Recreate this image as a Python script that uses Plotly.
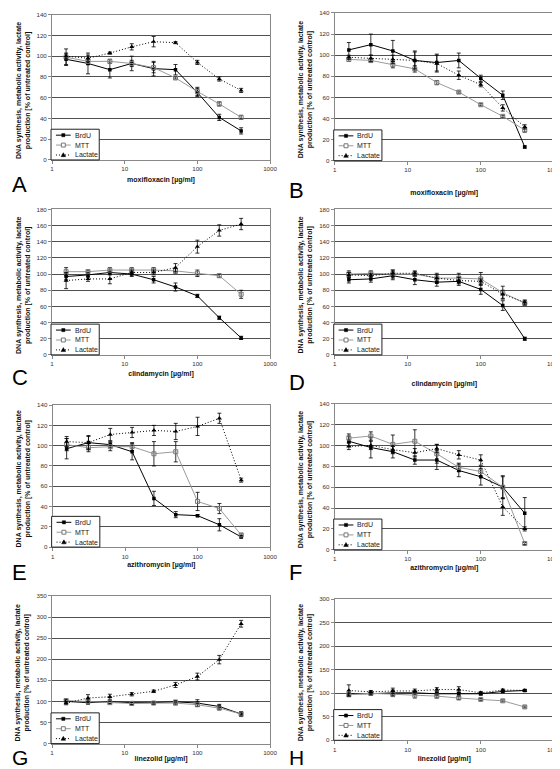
import plotly.graph_objects as go

# concentrations (µg/ml)
conc = [1.5625, 3.125, 6.25, 12.5, 25, 50, 100, 200, 400]

panel_letters = ["A", "B", "C", "D", "E", "F", "G", "H"]
drug_names = ["moxifloxacin", "moxifloxacin", "clindamycin", "clindamycin",
              "azithromycin", "azithromycin", "linezolid", "linezolid"]
series_names = ["BrdU", "MTT", "Lactate"]
y_max = [140, 140, 180, 180, 140, 140, 350, 300]
y_step = [20, 20, 20, 20, 20, 20, 50, 50]

# ---- Panel A ----
brdu_A = [97, 93, 87, 93, 88, 87, 65, 41, 28]
brdu_A_err = [5, 10, 8, 7, 7, 5, 4, 3, 3]
mtt_A = [99, 95, 95, 93, 89, 79, 66, 54, 41]
mtt_A_err = [8, 3, 2, 3, 5, 1, 4, 2, 2]
lac_A = [100, 98, 103, 109, 114, 113, 94, 78, 67]
lac_A_err = [3, 3, 1, 3, 5, 1, 2, 2, 2]

# ---- Panel B ----
brdu_B = [105, 110, 104, 95, 93, 95, 78, 62, 13]
brdu_B_err = [7, 10, 10, 9, 8, 7, 3, 4, 1]
mtt_B = [96, 95, 91, 87, 74, 65, 53, 42, 29]
mtt_B_err = [2, 2, 3, 3, 2, 1, 1, 1, 2]
lac_B = [98, 97, 96, 95, 92, 81, 72, 50, 32]
lac_B_err = [2, 3, 4, 8, 8, 4, 2, 3, 2]

# ---- Panel C ----
brdu_C = [97, 99, 102, 100, 93, 84, 73, 46, 21]
brdu_C_err = [4, 3, 3, 3, 4, 5, 2, 2, 2]
mtt_C = [103, 103, 105, 105, 105, 104, 101, 98, 75]
mtt_C_err = [5, 2, 3, 3, 3, 3, 4, 2, 5]
lac_C = [92, 94, 94, 102, 102, 108, 134, 154, 162]
lac_C_err = [10, 3, 6, 3, 3, 5, 8, 7, 7]

# ---- Panel D ----
brdu_D = [93, 94, 98, 93, 90, 91, 81, 61, 20]
brdu_D_err = [4, 4, 5, 6, 5, 5, 6, 6, 2]
mtt_D = [100, 101, 100, 100, 95, 95, 94, 77, 64]
mtt_D_err = [4, 3, 5, 3, 6, 6, 8, 8, 3]
lac_D = [99, 98, 101, 101, 95, 92, 91, 75, 65]
lac_D_err = [3, 3, 4, 3, 4, 4, 3, 5, 3]

# ---- Panel E ----
brdu_E = [97, 103, 101, 94, 48, 32, 31, 22, 10]
brdu_E_err = [10, 6, 3, 8, 7, 3, 1, 6, 1]
mtt_E = [101, 98, 99, 99, 92, 94, 45, 38, 12]
mtt_E_err = [6, 4, 4, 4, 12, 10, 9, 5, 1]
lac_E = [104, 103, 111, 113, 115, 114, 119, 127, 66]
lac_E_err = [5, 7, 6, 5, 5, 8, 9, 5, 2]

# ---- Panel F ----
brdu_F = [104, 98, 94, 86, 86, 76, 70, 60, 35]
brdu_F_err = [5, 10, 6, 4, 9, 6, 8, 11, 15]
mtt_F = [107, 109, 101, 104, 92, 79, 75, 60, 6]
mtt_F_err = [4, 4, 9, 11, 9, 4, 5, 10, 1]
lac_F = [99, 100, 96, 93, 97, 91, 86, 41, 20]
lac_F_err = [3, 4, 3, 4, 4, 4, 5, 8, 2]

# ---- Panel G ----
brdu_G = [100, 97, 99, 97, 97, 99, 96, 88, 70]
brdu_G_err = [4, 3, 3, 3, 3, 4, 8, 5, 6]
mtt_G = [102, 100, 97, 95, 96, 96, 92, 84, 70]
mtt_G_err = [4, 4, 3, 3, 3, 4, 4, 4, 4]
lac_G = [96, 108, 111, 117, 124, 139, 159, 199, 284]
lac_G_err = [4, 8, 6, 4, 3, 6, 8, 10, 8]

# ---- Panel H ----
brdu_H = [99, 99, 101, 101, 99, 99, 99, 104, 106]
brdu_H_err = [3, 3, 6, 4, 3, 4, 3, 2, 2]
mtt_H = [97, 100, 98, 96, 94, 90, 87, 84, 71]
mtt_H_err = [4, 4, 5, 6, 4, 3, 2, 2, 2]
lac_H = [106, 103, 105, 105, 108, 108, 101, 107, 106]
lac_H_err = [12, 3, 6, 4, 4, 6, 3, 2, 2]

brdu = [brdu_A, brdu_B, brdu_C, brdu_D, brdu_E, brdu_F, brdu_G, brdu_H]
brdu_err = [brdu_A_err, brdu_B_err, brdu_C_err, brdu_D_err, brdu_E_err, brdu_F_err, brdu_G_err, brdu_H_err]
mtt = [mtt_A, mtt_B, mtt_C, mtt_D, mtt_E, mtt_F, mtt_G, mtt_H]
mtt_err = [mtt_A_err, mtt_B_err, mtt_C_err, mtt_D_err, mtt_E_err, mtt_F_err, mtt_G_err, mtt_H_err]
lac = [lac_A, lac_B, lac_C, lac_D, lac_E, lac_F, lac_G, lac_H]
lac_err = [lac_A_err, lac_B_err, lac_C_err, lac_D_err, lac_E_err, lac_F_err, lac_G_err, lac_H_err]

W, H = 560, 769
FONT = "Arial, Liberation Sans, sans-serif"


def fx(px):
    return px / W


def fy(py):
    return 1 - py / H


# plot-area boxes in pixels: (left, top, right, bottom)
boxes = [
    (42.7, 2.7, 264.3, 149.3), (330, 1, 552.7, 150),
    (42.7, 199.3, 264.3, 346), (330, 199.3, 552.7, 346),
    (43.3, 396.7, 264.3, 540), (330, 395.3, 552.7, 542.7),
    (42.7, 589.3, 264.3, 738.3), (330, 592.7, 552.7, 735),
]
x_title_standoff = [5, 18, 4, 14, 3, 3, 1, 4]
letter_pos = [(0, 174), (282, 180), (0, 369), (282, 374),
              (0, 566), (282, 566), (0, None), (282, None)]

line_styles = [dict(color="black", width=1, dash="solid"),
               dict(color="#9a9a9a", width=1, dash="solid"),
               dict(color="black", width=1, dash="1px,2px")]
marker_styles = [dict(symbol="square", size=3.5, color="black"),
                 dict(symbol="square-open", size=4, color="#777777", line=dict(width=1)),
                 dict(symbol="triangle-up", size=4.5, color="black")]

fig = go.Figure()
layout = dict(
    width=W, height=H, margin=dict(l=0, r=0, t=0, b=0),
    paper_bgcolor="white", plot_bgcolor="white",
    font=dict(family=FONT, size=7, color="#222"),
    showlegend=False,
    annotations=[], shapes=[],
)

for i in range(8):
    n = i + 1
    sfx = "" if n == 1 else str(n)
    xa, ya = "x" + sfx, "y" + sfx
    l, t, r, b = boxes[i]
    vals = [brdu[i], mtt[i], lac[i]]
    errs = [brdu_err[i], mtt_err[i], lac_err[i]]
    for name, line, marker, v, e in zip(series_names, line_styles, marker_styles, vals, errs):
        fig.add_trace(go.Scatter(
            x=conc, y=v, mode="lines+markers", name=name,
            line=line, marker=marker,
            error_y=dict(type="data", array=e, visible=True, color="black",
                         thickness=0.8, width=2),
            xaxis=xa, yaxis=ya, showlegend=False,
        ))
    layout["xaxis" + sfx] = dict(
        type="log", range=[0, 3], domain=[fx(l), fx(r)], anchor=ya,
        tickvals=[1, 10, 100, 1000], ticktext=["1", "10", "100", "1000"],
        ticks="outside", ticklen=3, tickcolor="#888",
        showgrid=False, zeroline=False,
        showline=True, mirror=True, linecolor="#888", linewidth=1,
        tickfont=dict(size=6.2, color="#333", family=FONT),
        title=dict(text="<b>" + drug_names[i] + " [µg/ml]</b>",
                   font=dict(size=7, color="#111", family=FONT),
                   standoff=x_title_standoff[i]),
    )
    layout["yaxis" + sfx] = dict(
        range=[0, y_max[i]], dtick=y_step[i], domain=[fy(b), fy(t)], anchor=xa,
        ticks="outside", ticklen=3, tickcolor="#888",
        showgrid=True, gridcolor="#505050", gridwidth=1, zeroline=False,
        showline=True, mirror=True, linecolor="#888", linewidth=1,
        tickfont=dict(size=6.2, color="#333", family=FONT),
    )

    # ---- compact legend box (bottom-left of each plot area) ----
    bx0, bx1 = l - 1, l + 48
    by0, by1 = b - 31, b
    layout["shapes"].append(dict(
        type="rect", xref="paper", yref="paper", layer="above",
        x0=fx(bx0), x1=fx(bx1), y0=fy(by1), y1=fy(by0),
        line=dict(color="#222", width=1), fillcolor="white"))
    for k, name in enumerate(series_names):
        yy = by0 + 6 + k * 10
        ls = line_styles[k]
        layout["shapes"].append(dict(
            type="line", xref="paper", yref="paper", layer="above",
            x0=fx(l + 4), x1=fx(l + 19), y0=fy(yy), y1=fy(yy),
            line=dict(color=ls["color"], width=1, dash=ls["dash"])))
        cx = l + 11.5
        if k == 0:
            layout["shapes"].append(dict(
                type="rect", xref="paper", yref="paper", layer="above",
                x0=fx(cx - 1.6), x1=fx(cx + 1.6), y0=fy(yy + 1.6), y1=fy(yy - 1.6),
                line=dict(color="black", width=0.5), fillcolor="black"))
        elif k == 1:
            layout["shapes"].append(dict(
                type="rect", xref="paper", yref="paper", layer="above",
                x0=fx(cx - 2), x1=fx(cx + 2), y0=fy(yy + 2), y1=fy(yy - 2),
                line=dict(color="#777777", width=1), fillcolor="white"))
        else:
            path = "M {:.5f},{:.5f} L {:.5f},{:.5f} L {:.5f},{:.5f} Z".format(
                fx(cx), fy(yy - 2.3), fx(cx - 2.3), fy(yy + 1.7), fx(cx + 2.3), fy(yy + 1.7))
            layout["shapes"].append(dict(
                type="path", xref="paper", yref="paper", layer="above", path=path,
                line=dict(color="black", width=0.5), fillcolor="black"))
        layout["annotations"].append(dict(
            x=fx(l + 21), y=fy(yy), xref="paper", yref="paper",
            text=name, showarrow=False, xanchor="left", yanchor="middle",
            font=dict(size=7, color="#222", family=FONT)))

    # y-axis title
    layout["annotations"].append(dict(
        x=fx(l - 29.7), y=fy((t + b) / 2 + 3), xref="paper", yref="paper",
        text="<b>DNA synthesis, metabolic activity, lactate<br>production [% of untreated control]</b>",
        textangle=-90, showarrow=False, xanchor="center", yanchor="middle",
        font=dict(size=7, color="#111", family=FONT),
    ))
    # panel letter
    lx, ly = letter_pos[i]
    if ly is None:
        layout["annotations"].append(dict(
            x=fx(lx), y=3 / H, xref="paper", yref="paper",
            text=panel_letters[i], showarrow=False, xanchor="left", yanchor="bottom",
            font=dict(size=21, color="black", family=FONT),
        ))
    else:
        layout["annotations"].append(dict(
            x=fx(lx), y=fy(ly), xref="paper", yref="paper",
            text=panel_letters[i], showarrow=False, xanchor="left", yanchor="middle",
            font=dict(size=22, color="black", family=FONT),
        ))

fig.update_layout(**layout)
fig.write_html("out.html")
